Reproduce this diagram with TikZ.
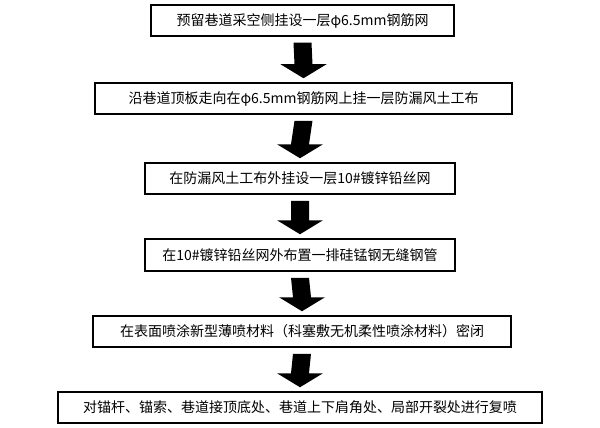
\documentclass[tikz,border=0pt]{standalone}
\usepackage{fontspec}
\usetikzlibrary{calc}
\newfontfamily\cjk{Noto Sans CJK SC}
\begin{document}
\begin{tikzpicture}[x=1pt,y=-1pt,
  stepbox/.style={draw,line width=1.5pt,rectangle,inner sep=0pt,font=\cjk\fontsize{14}{16}\selectfont},
  blk/.style={fill=black}]
\useasboundingbox (0,0) rectangle (600,428);
\def\bx#1#2#3#4#5#6{\node[stepbox,minimum width=#3-#2,minimum height=#5-#4] (#1) at ({(#2+#3)/2},{(#4+#5)/2}) {#6};}
\bx{b1}{151}{454}{5}{36}{预留巷道采空侧挂设一层φ6.5mm钢筋网}
\bx{b2}{95}{512}{83}{114}{沿巷道顶板走向在φ6.5mm钢筋网上挂一层防漏风土工布}
\bx{b3}{145}{455}{163}{194}{在防漏风土工布外挂设一层10\#镀锌铅丝网}
\bx{b4}{145}{455}{239}{271}{在10\#镀锌铅丝网外布置一排硅锰钢无缝钢管}
\bx{b5}{93}{511}{316}{347}{在表面喷涂新型薄喷材料（科塞敷无机柔性喷涂材料）密闭}
\bx{b6}{58}{542}{392}{423}{对锚杆、锚索、巷道接顶底处、巷道上下肩角处、局部开裂处进行复喷}
\foreach \a/\b in {b1/b2,b2/b3,b3/b4,b4/b5,b5/b6}{
  \path ($(\a.south)+(0,6)$) coordinate (s) ($(\b.north)+(0,-4)$) coordinate (t);
  \fill[blk] ($(s)+(-9,0)$) -- ($(s)+(9,0)$) -- ($(t)+(9,-14)$) -- ($(t)+(23,-14)$) -- (t) -- ($(t)+(-23,-14)$) -- ($(t)+(-9,-14)$) -- cycle;
}
\end{tikzpicture}
\end{document}
